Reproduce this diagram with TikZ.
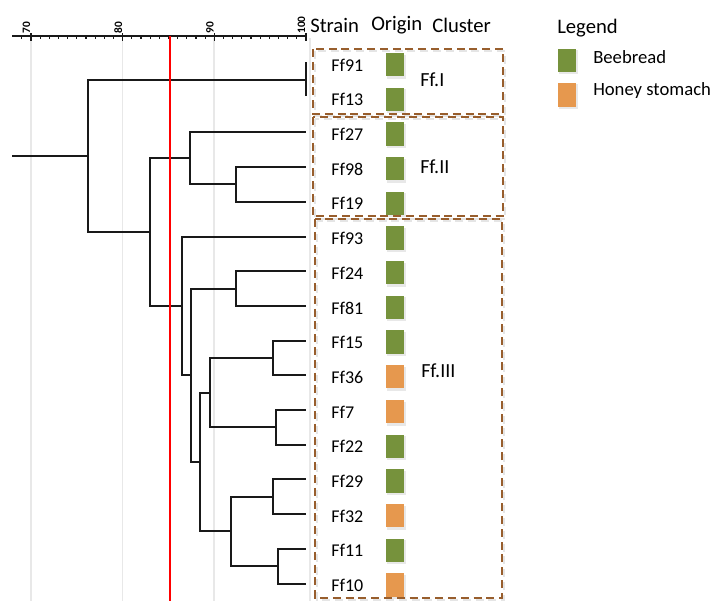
\documentclass[tikz,border=0pt]{standalone}
\usepackage{fontspec}
\setmainfont{Carlito}
\definecolor{bread}{RGB}{118,146,60}
\definecolor{honey}{RGB}{230,152,78}
\definecolor{clbrown}{RGB}{152,94,45}
\definecolor{treeblack}{RGB}{25,25,25}
\tikzset{
  branch/.style={draw=treeblack,line width=1.5pt},
  grid line/.style={draw=gray!18,line width=0.8pt},
  cutline/.style={draw=red,line width=1.6pt},
  clusterbox/.style={draw=clbrown,line width=1.6pt,dash pattern=on 6pt off 3.6pt},
  clustershadow/.style={draw=gray!20,line width=1.6pt,dash pattern=on 6pt off 3.6pt},
  strainlab/.style={anchor=west,inner sep=0pt,font=\fontsize{13.5}{15}\selectfont},
  headlab/.style={anchor=west,inner sep=0pt,font=\fontsize{15.5}{17}\selectfont},
  clusterlab/.style={anchor=west,inner sep=0pt,font=\fontsize{15}{18}\selectfont},
  scalelab/.style={anchor=west,rotate=90,inner sep=0pt,font=\fontsize{8.5}{9}\selectfont\bfseries},
  swatch/.style={minimum width=13.5pt,minimum height=17.5pt,inner sep=0pt},
}
\begin{document}
\begin{tikzpicture}[x=0.75pt,y=-0.75pt]
\useasboundingbox (0,0) rectangle (713,601);
% grid lines
\foreach \gx in {31,122.7,214,310} \draw[grid line] (\gx,38) -- (\gx,601);
% axis
\coordinate (axL) at (12,36);
\coordinate (axR) at (306,36);
\draw[treeblack,line width=1.2pt] (axL) -- (axR);
\foreach \v in {69,...,99} \draw[treeblack,line width=0.9pt] ({31+(\v-70)*9.167},35) -- ({31+(\v-70)*9.167},38.5);
\foreach \v in {70,80,90,100} {
  \draw[treeblack,line width=1.2pt] ({31+(\v-70)*9.167},33) -- ({31+(\v-70)*9.167},40.5);
  \node[scalelab] (sc\v) at ({26.5+(\v-70)*9.167},34) {\v};
}
% leaves
\foreach \i/\nm in {0/Ff91,1/Ff13,2/Ff27,3/Ff98,4/Ff19,5/Ff93,6/Ff24,7/Ff81,8/Ff15,9/Ff36,10/Ff7,11/Ff22,12/Ff29,13/Ff32,14/Ff11,15/Ff10} {
  \coordinate (l\i) at (306,{63+34.7*\i});
  \node[strainlab] (t\i) at (331,{65+34.7*\i}) {\nm};
}
% internal nodes
\coordinate (nI) at (306,80.35);
\coordinate (nIIb) at (236,184.45);
\coordinate (nII) at (190,158.4);
\coordinate (nD) at (236,288.55);
\coordinate (nH) at (273,357.95);
\coordinate (nJ) at (276,427.35);
\coordinate (nF) at (210,392.65);
\coordinate (nK) at (273,496.75);
\coordinate (nL) at (278,566.15);
\coordinate (nG) at (231,531.45);
\coordinate (nE) at (200,462.05);
\coordinate (nC) at (191,375.3);
\coordinate (nIII) at (182,305.9);
\coordinate (nB) at (150,232.15);
\coordinate (nA) at (88,156.3);
\coordinate (root) at (12,156.3);
% tree
\draw[branch] (l0) ++(0,-1) -- ([yshift=1.5pt]l1);
\draw[branch] (root) -- (nA);
\draw[branch] (nA) |- (nI);
\draw[branch] (nA) |- (nB);
\draw[branch] (nB) |- (nII);
\draw[branch] (nB) |- (nIII);
\draw[branch] (nII) |- (l2);
\draw[branch] (nII) |- (nIIb);
\draw[branch] (nIIb) |- (l3);
\draw[branch] (nIIb) |- (l4);
\draw[branch] (nIII) |- (l5);
\draw[branch] (nIII) |- (nC);
\draw[branch] (nC) |- (nD);
\draw[branch] (nC) |- (nE);
\draw[branch] (nD) |- (l6);
\draw[branch] (nD) |- (l7);
\draw[branch] (nE) |- (nF);
\draw[branch] (nE) |- (nG);
\draw[branch] (nF) |- (nH);
\draw[branch] (nF) |- (nJ);
\draw[branch] (nH) |- (l8);
\draw[branch] (nH) |- (l9);
\draw[branch] (nJ) |- (l10);
\draw[branch] (nJ) |- (l11);
\draw[branch] (nG) |- (nK);
\draw[branch] (nG) |- (nL);
\draw[branch] (nK) |- (l12);
\draw[branch] (nK) |- (l13);
\draw[branch] (nL) |- (l14);
\draw[branch] (nL) |- (l15);
% cut line
\coordinate (cutTop) at (170,36);
\coordinate (cutBot) at (170,601);
\draw[cutline] (cutTop) -- (cutBot);
% origin swatches
\foreach \i/\c in {0/bread,1/bread,2/bread,3/bread,4/bread,5/bread,6/bread,7/bread,8/bread,9/honey,10/honey,11/bread,12/bread,13/honey,14/bread,15/honey} {
  \fill[gray!18] (396,{65.5+34.7*\i}) +(-9,-11) rectangle +(10,13);
  \node[swatch,fill=\c] (o\i) at (395,{64.5+34.7*\i}) {};
}
% cluster boxes
\draw[clustershadow] (315,51) rectangle (505,116);
\draw[clusterbox] (313,49) rectangle (503,114);
\draw[clustershadow] (315,119) rectangle (505,219);
\draw[clusterbox] (313,117) rectangle (503,216);
\draw[clustershadow] (317,221) rectangle (504,600);
\draw[clusterbox] (315,219) rectangle (502,598);
\node[clusterlab] (cI) at (420,80) {Ff.I};
\node[clusterlab] (cII) at (420,167) {Ff.II};
\node[clusterlab] (cIII) at (421,371) {Ff.III};
% header
\node[headlab] (hS) at (310,25) {Strain};
\node[headlab] (hO) at (371,25) {Origin};
\node[headlab] (hC) at (432,25) {Cluster};
% legend
\node[headlab] (lgT) at (557,28) {Legend};
\fill[gray!18] (559,50) rectangle (578,74);
\node[swatch,fill=bread] (lgB) at (567,60.5) {};
\fill[gray!18] (559,84) rectangle (578,109);
\node[swatch,fill=honey] (lgH) at (567,95) {};
\node[strainlab,font=\fontsize{14}{16}\selectfont] (lgBt) at (593,57) {Beebread};
\node[strainlab,font=\fontsize{14}{16}\selectfont] (lgHt) at (593,91) {Honey stomach};
\end{tikzpicture}
\end{document}
